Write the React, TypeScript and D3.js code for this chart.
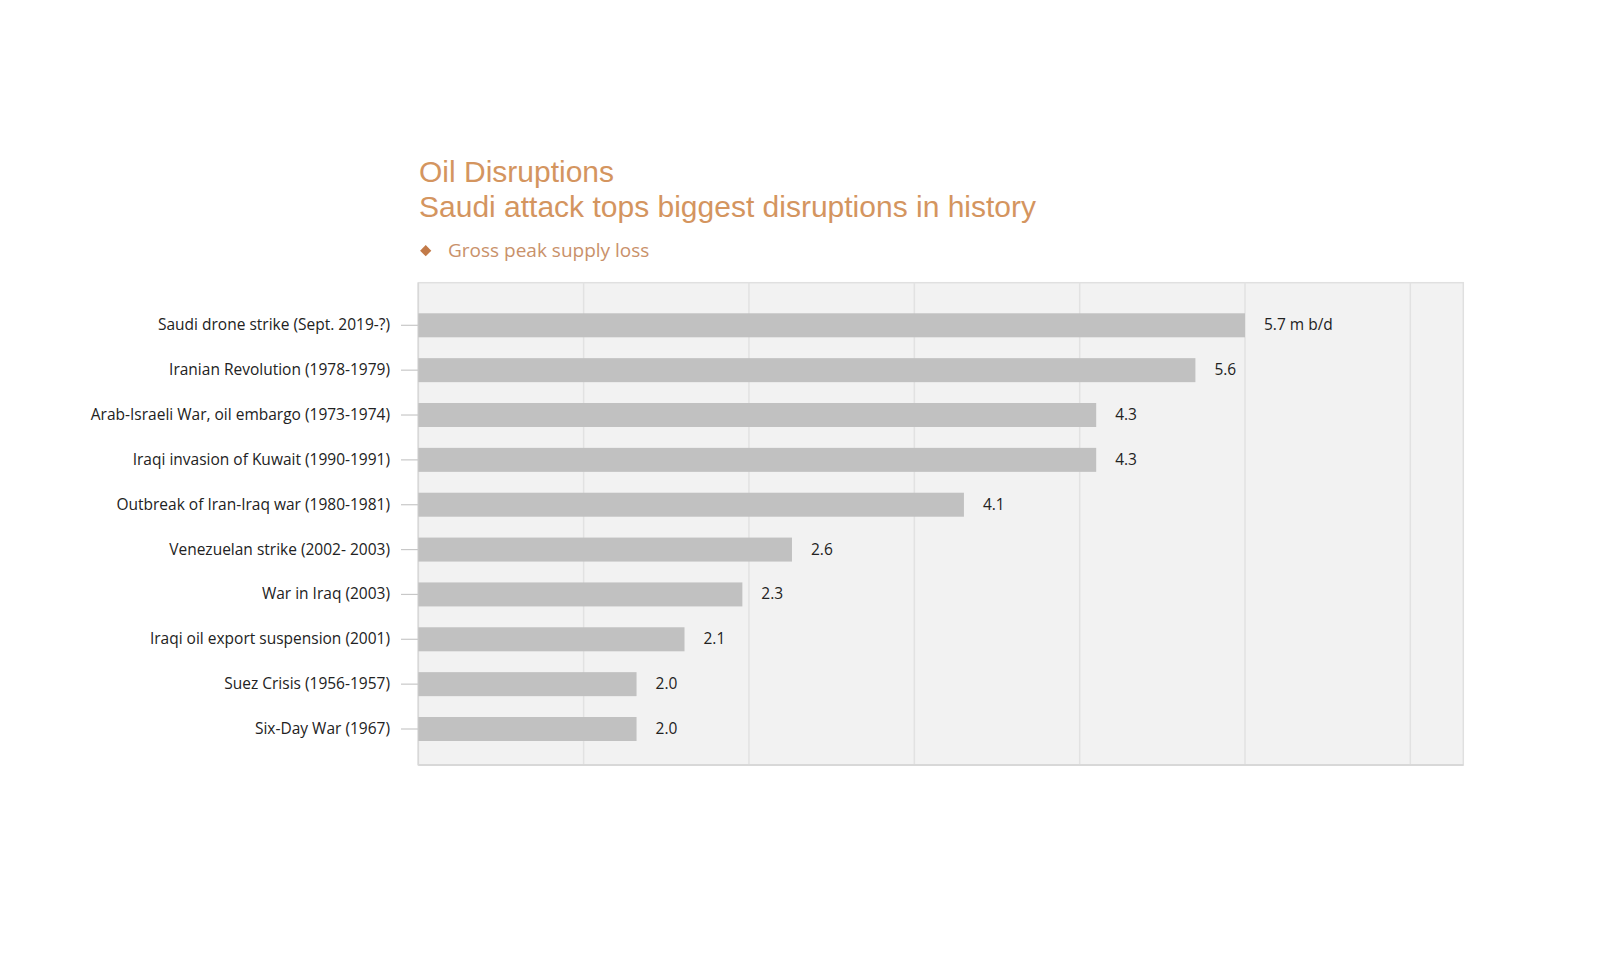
import React from "react";
import * as d3 from "d3";

const categories = [
  "Saudi drone strike (Sept. 2019-?)",
  "Iranian Revolution (1978-1979)",
  "Arab-Israeli War, oil embargo (1973-1974)",
  "Iraqi invasion of Kuwait (1990-1991)",
  "Outbreak of Iran-Iraq war (1980-1981)",
  "Venezuelan strike (2002- 2003)",
  "War in Iraq (2003)",
  "Iraqi oil export suspension (2001)",
  "Suez Crisis (1956-1957)",
  "Six-Day War (1967)",
];

// bar lengths as drawn, in axis grid units
const barValues = [5.0, 4.7, 4.1, 4.1, 3.3, 2.26, 1.96, 1.61, 1.32, 1.32];
// value labels as printed on the chart
const valueLabels = ["5.7 m b/d", "5.6", "4.3", "4.3", "4.1", "2.6", "2.3", "2.1", "2.0", "2.0"];
const gridTicks = [0, 1, 2, 3, 4, 5, 6];

const title1 = "Oil Disruptions";
const title2 = "Saudi attack tops biggest disruptions in history";
const legendLabel = "Gross peak supply loss";

export default function App() {
  const W = 1600;
  const H = 970;
  const plotLeft = 418.3;
  const plotRight = 1463.3;
  const plotTop = 282.7;
  const plotBottom = 765;

  const x = d3.scaleLinear().domain([0, 5]).range([plotLeft, 1245]);
  const y = d3
    .scaleBand<string>()
    .domain(categories)
    .range([299.85, 754.45])
    .paddingInner(0.465)
    .paddingOuter(0.3);

  const labelFont = "'Open Sans', 'DejaVu Sans', sans-serif";

  return (
    <svg
      width={W}
      height={H}
      style={{ position: "absolute", left: 0, top: 0, display: "block", background: "#fff" }}
    >
      <text x={419} y={182} fontFamily="'Liberation Sans', Arial, sans-serif" fontSize={30} fill="#d4955f">
        {title1}
      </text>
      <text x={419} y={217} fontFamily="'Liberation Sans', Arial, sans-serif" fontSize={30} fill="#d4955f">
        {title2}
      </text>
      <path
        d={d3.symbol().type(d3.symbolDiamond2).size(80)() as string}
        transform="translate(425.7,250.7)"
        fill="#c27a48"
      />
      <text x={448} y={257} fontFamily={labelFont} fontSize={19} fill="#c9916a">
        {legendLabel}
      </text>

      <rect
        x={plotLeft}
        y={plotTop}
        width={plotRight - plotLeft}
        height={plotBottom - plotTop}
        fill="#f2f2f2"
        stroke="#e0e0e0"
        strokeWidth={1.5}
      />
      {gridTicks.slice(1).map((t) => (
        <line
          key={t}
          x1={x(t)}
          x2={x(t)}
          y1={plotTop}
          y2={plotBottom}
          stroke="#e2e2e2"
          strokeWidth={1.5}
        />
      ))}
      <line x1={plotLeft} x2={plotRight} y1={plotBottom} y2={plotBottom} stroke="#d8d8d8" strokeWidth={2} />
      <line x1={plotLeft} x2={plotLeft} y1={plotTop} y2={plotBottom} stroke="#d8d8d8" strokeWidth={1.5} />

      {categories.map((c, i) => {
        const yTop = y(c) as number;
        const bh = y.bandwidth();
        const cy = yTop + bh / 2;
        return (
          <g key={c}>
            <rect x={x(0)} y={yTop} width={x(barValues[i]) - x(0)} height={bh} fill="#c1c1c1" />
            <line x1={401} x2={plotLeft} y1={cy} y2={cy} stroke="#c8c8c8" strokeWidth={1.2} />
            <text
              x={390}
              y={cy}
              dy="0.32em"
              textAnchor="end"
              fontFamily={labelFont}
              fontSize={15.5}
              fill="#222"
            >
              {c}
            </text>
            <text
              x={x(barValues[i]) + 19}
              y={cy}
              dy="0.32em"
              fontFamily={labelFont}
              fontSize={15.5}
              fill="#222"
            >
              {valueLabels[i]}
            </text>
          </g>
        );
      })}
    </svg>
  );
}
